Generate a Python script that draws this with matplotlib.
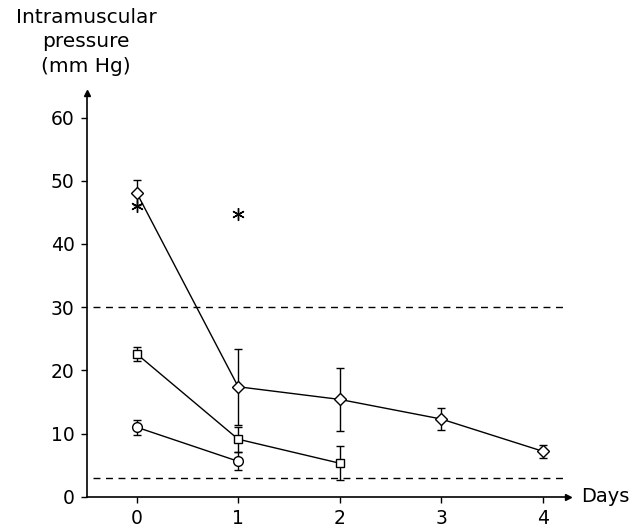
import matplotlib.pyplot as plt

# data
days = [0, 1, 2, 3, 4]
diamond = [48.1, 17.4, 15.4, 12.3, 7.2]
diamond_err = [2.0, 6.0, 5.0, 1.7, 1.0]
square_days = [0, 1, 2]
square = [22.6, 9.1, 5.3]
square_err = [1.1, 2.0, 2.7]
circle_days = [0, 1]
circle = [11.0, 5.6]
circle_err = [1.2, 1.4]
star_days = [0, 1]
star_vals = [46.0, 44.8]
ref_levels = [30, 3]

plt.rcParams['font.family'] = 'DejaVu Sans'

fig = plt.figure(figsize=(6.34, 5.29), dpi=100)
ax = fig.add_axes([87 / 634, 1 - 496.7 / 529, (568 - 87) / 634, (496.7 - 93) / 529])

ekw = dict(color='black', lw=1.0, capsize=3, capthick=1.0, elinewidth=1.0,
           markerfacecolor='white', markeredgecolor='black', markeredgewidth=1.0)
ax.errorbar(days, diamond, yerr=diamond_err, marker='D', markersize=6.5, zorder=3, **ekw)
ax.errorbar(square_days, square, yerr=square_err, marker='s', markersize=6, zorder=3, **ekw)
ax.errorbar(circle_days, circle, yerr=circle_err, marker='o', markersize=7, zorder=3, **ekw)

ax.plot(star_days, star_vals, linestyle='none', marker=(6, 2, 0), markersize=9,
        color='black', markeredgewidth=1.0, zorder=4)

for lev in ref_levels:
    ax.plot([-0.43, 4.25], [lev, lev], color='black', lw=1.0, linestyle=(0, (5, 4)),
            zorder=1)

ax.set_xlim(-0.49, 4.25)
ax.set_ylim(0, 63.9)
ax.set_xticks(days)
ax.set_yticks(range(0, 61, 10))
ax.tick_params(axis='both', direction='out', length=4, width=1, labelsize=13.5)
ax.tick_params(axis='y', pad=5)
ax.tick_params(axis='x', pad=5)

for s in ['top', 'right']:
    ax.spines[s].set_visible(False)
for s in ['left', 'bottom']:
    ax.spines[s].set_linewidth(1.2)

# arrow heads at the axis ends
ax.plot(1, 0, marker='>', color='black', markersize=5, transform=ax.transAxes, clip_on=False)
ax.plot(0, 1, marker='^', color='black', markersize=5, transform=ax.transAxes, clip_on=False)

fig.text(86 / 634, 1 - 8 / 529, 'Intramuscular\npressure\n(mm Hg)', ha='center', va='top',
         fontsize=14.5, linespacing=1.35)
fig.text(581 / 634, 1 - 497 / 529, 'Days', ha='left', va='center', fontsize=14)

fig.savefig('out.png', dpi=100)
